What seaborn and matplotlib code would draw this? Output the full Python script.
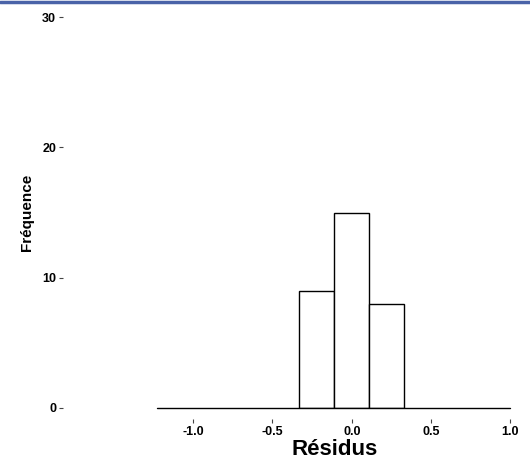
import numpy as np
import matplotlib
matplotlib.use("Agg")
import matplotlib.pyplot as plt
import seaborn as sns
from matplotlib.lines import Line2D

# histogram of residuals: bin edges and counts
bin_edges = [-0.33, -0.11, 0.11, 0.33]
counts = [9, 15, 8]
x_ticks = [-1.0, -0.5, 0.0, 0.5, 1.0]
x_labels = ["-1.0", "-0.5", "0.0", "0.5", "1.0"]
y_ticks = [0, 10, 20, 30]

bin_mids = [(a + b) / 2 for a, b in zip(bin_edges[:-1], bin_edges[1:])]

sns.set_theme(style="white")
plt.rcParams['font.family'] = ['Liberation Sans Narrow', 'Liberation Sans', 'DejaVu Sans']
plt.rcParams['text.color'] = 'black'
plt.rcParams['axes.labelcolor'] = 'black'
plt.rcParams['xtick.color'] = 'black'
plt.rcParams['ytick.color'] = 'black'

fig = plt.figure(figsize=(5.30, 4.63), dpi=100)
ax = fig.add_axes([63 / 530, 55 / 463, (512 - 63) / 530, (408 - 17) / 463])

sns.histplot(x=bin_mids, weights=counts, bins=bin_edges, ax=ax,
             color="white", edgecolor="black", linewidth=1.0, alpha=1.0)

ax.set_xlim(-1.82, 1.01)
ax.set_ylim(0, 30)

# x axis line only over the data range
ax.plot([-1.23, 1.0], [0, 0], color="black", lw=1.0, clip_on=False)

for side in ["top", "right", "left", "bottom"]:
    ax.spines[side].set_visible(False)
ax.spines["bottom"].set_position(("outward", 8))

ax.set_xticks(x_ticks)
ax.set_xticklabels(x_labels, fontweight="bold", fontsize=9)
ax.set_yticks(y_ticks)
ax.set_yticklabels([str(v) for v in y_ticks], fontweight="bold", fontsize=9)
ax.tick_params(axis="x", direction="out", length=3, width=0.8, color="#444444", pad=2, bottom=True)
ax.tick_params(axis="y", direction="out", length=3, width=0.8, color="#444444", pad=2, left=True)

ax.set_xlabel("Résidus", fontsize=16, fontweight="bold", family=["Liberation Sans", "DejaVu Sans"], labelpad=0)
ax.xaxis.set_label_coords((335 - 63) / 449, -0.08)
ax.set_ylabel("Fréquence", fontsize=11, fontweight="bold", family=["Liberation Sans", "DejaVu Sans"], labelpad=6)
ax.grid(False)

# blue frame line at top of the image
fig.add_artist(Line2D([0, 1], [1 - 1.5 / 463, 1 - 1.5 / 463], transform=fig.transFigure,
                      color="#4a63a8", lw=2.5))

fig.savefig("out.png", dpi=100)
